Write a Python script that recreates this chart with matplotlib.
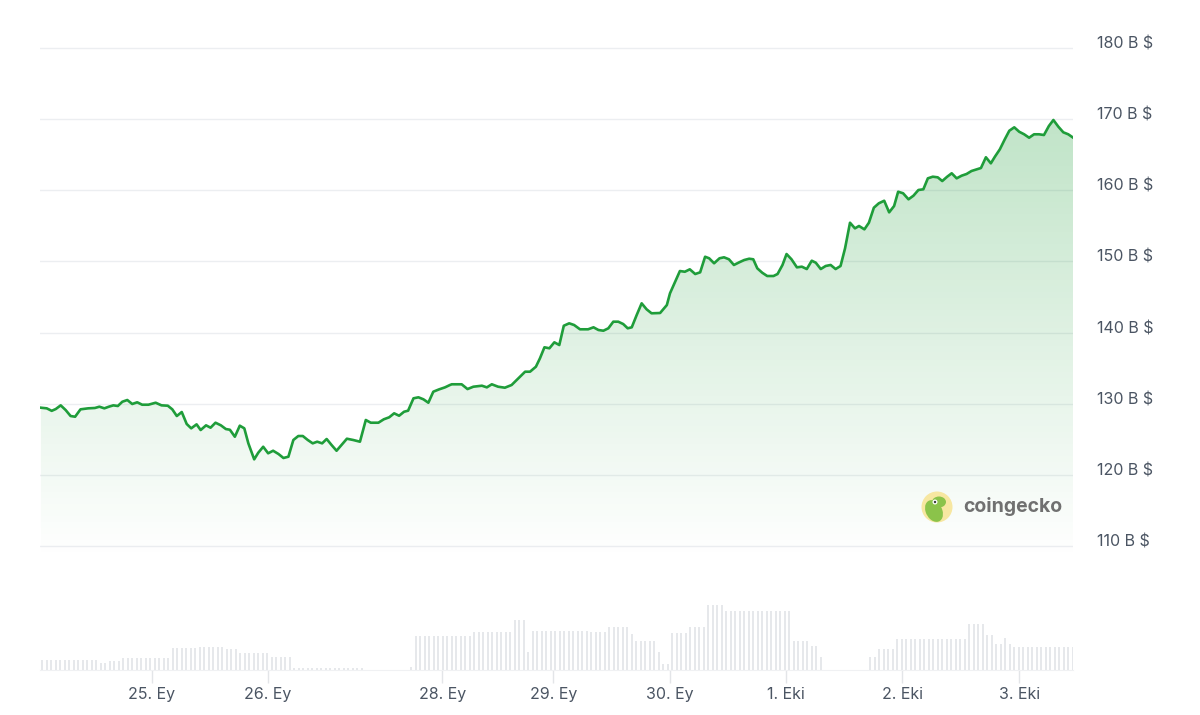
import numpy as np
import matplotlib.pyplot as plt
from matplotlib.transforms import ScaledTranslation
from matplotlib.patches import Ellipse

plt.rcParams['font.family'] = ['Inter', 'DejaVu Sans']

# market cap (B $) against hour index
hours = [0.2, 1.5, 2.6, 3.5, 4.6, 5.7, 6.8, 7.8, 9.0, 10.7, 12.2, 13.2, 14.3, 15.3, 16.3, 17.3,
         18.3, 19.4, 20.5, 21.6, 22.7, 24.1, 25.7, 27.0, 28.4, 29.4, 30.4, 31.5, 32.6, 33.6, 34.8,
         35.7, 36.9, 37.9, 39.0, 40.2, 41.3, 42.2, 43.3, 44.4, 45.4,
         46.3, 47.6, 48.5, 49.6, 50.7, 51.8, 53.0, 54.1, 55.2, 56.3, 57.4, 58.4, 59.5, 60.6, 61.6,
         62.7, 63.7, 64.8, 65.9, 67.0, 68.2, 69.6, 71.1, 72.4, 73.5, 75.2, 76.4, 77.6, 78.7, 79.8,
         80.9, 81.8, 83.0, 84.1, 85.2, 86.3, 87.4, 88.7, 90.0, 91.1,
         91.5, 93.7, 95.0, 96.3, 98.2, 99.3, 100.4, 101.8, 103.3, 104.8, 106.3, 107.8, 108.9,
         110.2, 111.1, 112.1, 113.2, 114.3, 115.4, 116.4, 117.6, 118.7, 120.0, 121.8, 123.0,
         124.1, 125.2, 126.3, 127.4, 128.5, 129.6, 130.6, 131.5, 132.6, 133.7, 134.8, 135.9,
         137.8, 139.3, 140.0, 142.2, 143.3, 144.4, 145.6, 146.7, 147.8, 148.7, 149.8, 151.0,
         152.0, 153.1, 154.2, 155.4, 156.5, 157.6, 158.5, 159.4, 160.5, 161.6, 163.0, 163.9,
         165.0, 165.9, 167.0, 168.2, 169.3, 170.4, 171.5, 172.4, 173.5, 174.6, 175.7, 176.8,
         177.9, 178.9, 180.0, 181.1, 182.0, 183.2, 184.2, 185.3, 186.4, 187.6, 188.7, 189.8,
         190.7, 191.8, 193.0, 194.1, 195.2, 196.3, 197.3, 198.4, 199.5, 200.5, 201.6, 202.6,
         203.7, 204.8, 205.9, 207.0, 208.2, 209.1, 210.2, 211.3, 212.2, 213.3, 214.4, 215.4,
         216.5, 217.6, 218.7, 219.8, 220.9, 222.0, 223.1, 224.2, 225.2, 226.3, 227.4, 228.5, 229.6]
price = [129.44, 129.35, 129.0, 129.25, 129.77, 129.11, 128.27, 128.17, 129.21, 129.35, 129.4,
         129.58, 129.35, 129.58, 129.77, 129.68, 130.28, 130.52, 129.96, 130.2, 129.86, 129.86,
         130.14, 129.77, 129.72, 129.21, 128.27, 128.83, 127.15, 126.54, 127.1, 126.3, 126.96,
         126.63, 127.33, 126.96, 126.44, 126.34, 125.36, 126.91, 126.54,
         124.43, 122.18, 123.11, 123.95, 123.03, 123.39, 122.93, 122.37, 122.55, 124.9, 125.46,
         125.46, 124.9, 124.43, 124.66, 124.43, 125.04, 124.19, 123.39, 124.19, 125.08, 124.9,
         124.66, 127.71, 127.33, 127.33, 127.81, 128.09, 128.65, 128.31, 128.87, 129.02, 130.76,
         130.9, 130.62, 130.14, 131.69, 132.02, 132.3, 132.63,
         132.73, 132.73, 132.06, 132.39, 132.53, 132.3, 132.73, 132.39, 132.25, 132.63, 133.57,
         134.5, 134.5, 135.2, 136.38, 137.93, 137.79, 138.63, 138.25, 140.96, 141.3, 141.06,
         140.46, 140.46, 140.74, 140.36, 140.26, 140.6, 141.53, 141.53, 141.2, 140.6, 140.74,
         142.47, 144.11, 143.27, 142.71,
         142.75, 143.87, 145.52, 148.65, 148.55, 148.89, 148.23, 148.47, 150.66, 150.44, 149.74,
         150.44, 150.58, 150.3, 149.5, 149.88, 150.2, 150.38, 150.3, 149.03, 148.41, 147.95,
         147.95, 148.23, 149.5, 151.04, 150.3, 149.17, 149.26, 148.93, 150.1, 149.82, 148.93,
         149.36, 149.5, 148.93, 149.36, 151.84, 155.44, 154.65, 154.98, 154.51, 155.44, 157.55,
         158.17, 158.53, 156.9, 157.79, 159.8, 159.58, 158.73, 159.24, 160.04, 160.14, 161.68,
         161.91, 161.82, 161.3, 161.91, 162.39, 161.68, 162.05, 162.29, 162.71, 162.95, 163.13,
         164.64, 163.79, 164.72, 165.76, 167.17, 168.37, 168.85, 168.23, 167.87, 167.39, 167.87,
         167.87, 167.77, 169.04, 169.88, 168.94, 168.15, 167.87, 167.39]

# hourly volume (relative), as runs of equal bars
vol_runs = [13, 2, 3, 11, 6, 6, 3, 7, 5, 16, 10, 1, 13, 9, 3, 1, 13, 4, 5, 1,
            5, 1, 2, 4, 4, 4, 15, 4, 2, 1, 10, 2, 4, 16, 4, 2, 2, 1, 1, 14]
vol_vals = [10, 7, 9, 12, 22, 23, 21, 17, 13, 2.5, 0, 3, 34, 38, 50, 18, 39, 38, 43, 36,
            29, 18, 6, 37, 43, 65, 59, 29, 24, 13, 0, 13, 21, 31, 46, 35, 26, 32, 26, 23]

day_pos = [24.8, 50.6, 89.4, 114.1, 140.0, 165.8, 191.6, 217.6]
day_labels = ['25. Ey', '26. Ey', '28. Ey', '29. Ey', '30. Ey', '1. Eki', '2. Eki', '3. Eki']
cap_ticks = [110, 120, 130, 140, 150, 160, 170, 180]

volume = np.repeat(vol_vals, vol_runs)
vol_idx = np.arange(len(volume))

W, H = 1200, 715
fig = plt.figure(figsize=(12, 7.15), dpi=100)
x0, x1 = 40, 1073
xmax = (x1 - x0) / 4.5

green = '#1f9d3a'
label_col = '#4b5563'
grid_col = '#eceef1'

# price panel
top_px, bot_px = 40, 560
ax = fig.add_axes([x0 / W, 1 - bot_px / H, (x1 - x0) / W, (bot_px - top_px) / H])
ppx = 498 / 70.0
ylo = 110 - (bot_px - 546) / ppx
yhi = 180 + (48 - top_px) / ppx
ax.set_xlim(0, xmax)
ax.set_ylim(ylo, yhi)

# gradient fill under the line
n = 256
alpha = np.linspace(0.0, 0.33, n)[:, None]
rgb = np.array([34, 160, 60]) / 255.0
grad = np.zeros((n, 1, 4))
grad[..., :3] = rgb
grad[..., 3] = alpha
poly = ax.fill_between(hours, price, ylo, color='none', lw=0)
im = ax.imshow(grad, extent=[0, xmax, ylo, 180], origin='lower', aspect='auto', zorder=1)
im.set_clip_path(poly.get_paths()[0], transform=ax.transData)

ax.plot(hours, price, color=green, lw=1.9, zorder=3, solid_joinstyle='round')

ax.set_yticks(cap_ticks)
ax.set_yticklabels([f'{v} B $' for v in cap_ticks])
ax.yaxis.tick_right()
ax.tick_params(axis='y', length=0, pad=17, labelsize=11.5, labelcolor=label_col)
for lab in ax.get_yticklabels():
    lab.set_transform(lab.get_transform() + ScaledTranslation(0, 4 / 72, fig.dpi_scale_trans))
ax.set_xticks([])
ax.grid(axis='y', color=grid_col, lw=1)
ax.set_axisbelow(True)
for s in ax.spines.values():
    s.set_visible(False)


def blob(cx, cy, w, h, color, z, angle=0):
    # ellipse sized in pixels, placed in figure coords
    fig.patches.append(Ellipse((cx / W, 1 - cy / H), w / W, h / H, angle=angle,
                               transform=fig.transFigure, facecolor=color,
                               edgecolor='none', zorder=z))


# coingecko mark
blob(937, 507, 31, 31, '#f7e7a1', 5)
blob(934, 511, 17, 22, '#8bc34a', 6, angle=10)
blob(939, 502, 14, 11, '#8bc34a', 6)
blob(935, 502, 5, 5, 'white', 7)
blob(935, 502, 2.4, 2.4, '#3a3a3a', 8)
fig.text(963 / W, 1 - 507 / H, 'coingecko', fontsize=14, fontweight='bold', color='#707070',
         va='center', ha='left')

# volume panel
vtop, vbot = 604, 670
av = fig.add_axes([x0 / W, 1 - vbot / H, (x1 - x0) / W, (vbot - vtop) / H])
av.bar(vol_idx + 0.5, volume, width=0.42, color='#e6e8eb', lw=0)
av.set_xlim(0, xmax)
av.set_ylim(0, 66)
av.set_yticks([])
av.set_xticks(day_pos)
av.set_xticklabels(day_labels)
av.tick_params(axis='x', length=9, width=1, color='#e3e5e8', pad=3,
               labelsize=11.5, labelcolor=label_col)
for s in ['top', 'left', 'right']:
    av.spines[s].set_visible(False)
av.spines['bottom'].set_color('#f0f1f3')
av.set_facecolor('none')

fig.savefig('out.png', dpi=100, facecolor='white')
